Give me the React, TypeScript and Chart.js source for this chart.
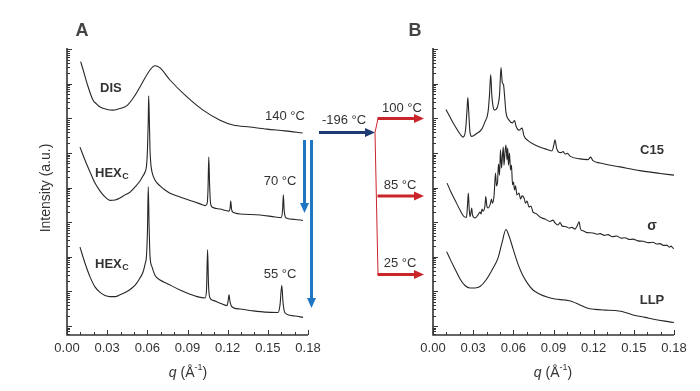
import React, { useEffect, useRef } from 'react';
import { Chart, registerables } from 'chart.js';
Chart.register(...registerables);

// ---------- data (q in 1/Å, intensity given as log10 of arbitrary units) ----------
const xTickValues = [0, 0.03, 0.06, 0.09, 0.12, 0.15, 0.18];

// Panel A
const disQ = [0.0102, 0.0123, 0.0149, 0.0194, 0.022, 0.0247, 0.0299, 0.0344, 0.0381, 0.0448, 0.05, 0.0545, 0.062, 0.0657, 0.0695, 0.0769, 0.0896, 0.1016, 0.1143, 0.124, 0.1367, 0.1494, 0.1628, 0.176];
const disLogI = [8.64, 8.37, 8.02, 7.53, 7.42, 7.33, 7.26, 7.24, 7.27, 7.37, 7.62, 7.91, 8.4, 8.52, 8.46, 8.11, 7.62, 7.24, 6.95, 6.81, 6.75, 6.69, 6.64, 6.58];

const hex70Q = [0.0097, 0.0134, 0.0172, 0.0209, 0.0247, 0.0284, 0.0321, 0.0359, 0.0396, 0.0433, 0.0471, 0.0508, 0.0545, 0.0568, 0.0583, 0.0594, 0.0601, 0.0607, 0.061, 0.0615, 0.062, 0.0627, 0.0635, 0.0657, 0.0695, 0.0732, 0.0769, 0.0844, 0.0919, 0.0994, 0.1031, 0.1046, 0.1053, 0.1059, 0.1065, 0.1072, 0.1083, 0.1143, 0.121, 0.1218, 0.1223, 0.1229, 0.124, 0.133, 0.1442, 0.1554, 0.1599, 0.161, 0.1616, 0.1622, 0.1636, 0.1703, 0.1763];
const hex70LogI = [6.17, 5.8, 5.45, 5.13, 4.9, 4.73, 4.63, 4.64, 4.7, 4.79, 4.87, 5.02, 5.19, 5.34, 5.45, 5.63, 6.09, 6.95, 7.65, 6.95, 6.09, 5.65, 5.45, 5.22, 5.05, 4.93, 4.84, 4.73, 4.63, 4.53, 4.48, 4.53, 4.93, 5.88, 5.08, 4.55, 4.44, 4.38, 4.32, 4.41, 4.61, 4.38, 4.29, 4.23, 4.21, 4.15, 4.13, 4.35, 4.79, 4.35, 4.12, 4.08, 4.05];

const hex55Q = [0.0097, 0.0134, 0.0172, 0.0209, 0.0247, 0.0284, 0.0321, 0.0359, 0.0396, 0.0441, 0.0483, 0.0515, 0.0545, 0.0568, 0.0583, 0.0594, 0.0601, 0.0607, 0.0613, 0.062, 0.0635, 0.0657, 0.0695, 0.0747, 0.0844, 0.0919, 0.0971, 0.1031, 0.1042, 0.105, 0.1057, 0.1068, 0.1091, 0.1143, 0.1195, 0.1203, 0.121, 0.1218, 0.1233, 0.1292, 0.1367, 0.1479, 0.1576, 0.1591, 0.1604, 0.1614, 0.1628, 0.1703, 0.1763];
const hex55LogI = [3.28, 2.82, 2.42, 2.13, 1.97, 1.88, 1.85, 1.85, 1.9, 1.98, 2.09, 2.21, 2.39, 2.56, 2.79, 3.05, 3.77, 5.02, 3.92, 3.02, 2.71, 2.47, 2.33, 2.23, 2.04, 1.92, 1.85, 1.81, 2.04, 3.2, 2.18, 1.81, 1.74, 1.66, 1.59, 1.72, 1.9, 1.69, 1.55, 1.49, 1.45, 1.4, 1.39, 1.61, 2.18, 1.66, 1.38, 1.29, 1.25];

// Panel B
const c15Q = [0.0097, 0.0127, 0.0164, 0.0202, 0.0224, 0.0243, 0.0254, 0.026, 0.0267, 0.0276, 0.0289, 0.0321, 0.0364, 0.0388, 0.0411, 0.0422, 0.0431, 0.0439, 0.0448, 0.0459, 0.0482, 0.0497, 0.0508, 0.0517, 0.0527, 0.0534, 0.0545, 0.0568, 0.0594, 0.0609, 0.062, 0.0642, 0.0665, 0.068, 0.071, 0.0762, 0.0837, 0.0889, 0.0904, 0.0911, 0.0923, 0.0937, 0.0956, 0.0971, 0.0986, 0.1005, 0.1023, 0.1098, 0.1158, 0.1177, 0.1195, 0.1247, 0.1397, 0.1546, 0.1696, 0.18];
const c15LogI = [7.26, 7.04, 6.78, 6.55, 6.46, 6.66, 7.24, 7.6, 7.18, 6.61, 6.48, 6.55, 6.69, 6.9, 7.18, 7.68, 8.27, 7.68, 7.36, 7.24, 7.34, 7.68, 8.47, 8.05, 7.97, 7.68, 7.18, 6.95, 6.87, 6.94, 6.78, 6.66, 6.72, 6.49, 6.36, 6.23, 6.12, 6.06, 6.26, 6.38, 6.14, 6.03, 6.01, 6.04, 5.97, 5.99, 5.91, 5.83, 5.81, 5.88, 5.78, 5.71, 5.6, 5.49, 5.41, 5.36];

const sigmaQ = [0.0105, 0.0134, 0.0164, 0.0202, 0.0232, 0.025, 0.0258, 0.0264, 0.027, 0.0276, 0.0284, 0.0289, 0.0295, 0.0314, 0.0336, 0.0351, 0.0359, 0.0366, 0.0374, 0.0388, 0.0394, 0.0402, 0.0411, 0.0426, 0.0437, 0.0444, 0.0456, 0.0467, 0.0474, 0.0482, 0.0489, 0.0497, 0.0504, 0.0512, 0.0519, 0.0525, 0.053, 0.0538, 0.0545, 0.0553, 0.0558, 0.0564, 0.0571, 0.0579, 0.0586, 0.0594, 0.0601, 0.0609, 0.0616, 0.0627, 0.0642, 0.0654, 0.0665, 0.068, 0.0691, 0.0702, 0.0717, 0.0732, 0.0747, 0.0769, 0.0799, 0.0837, 0.0874, 0.0896, 0.0911, 0.0934, 0.0949, 0.0964, 0.0994, 0.1016, 0.1038, 0.1061, 0.1076, 0.1091, 0.1102, 0.1121, 0.115, 0.1195, 0.1225, 0.1247, 0.128, 0.1307, 0.134, 0.1372, 0.1405, 0.1434, 0.147, 0.1494, 0.153, 0.1569, 0.161, 0.1643, 0.167, 0.1696, 0.172, 0.1748, 0.1765, 0.1778, 0.179, 0.18];
const sigmaLogI = [5.13, 4.87, 4.64, 4.35, 4.16, 4.14, 4.5, 4.84, 4.41, 4.16, 4.29, 4.41, 4.21, 4.12, 4.21, 4.29, 4.24, 4.38, 4.32, 4.47, 4.74, 4.47, 4.41, 4.5, 4.67, 4.55, 4.76, 5.42, 5.05, 5.16, 5.68, 5.36, 6.09, 5.57, 5.94, 6.17, 5.65, 6.03, 6.23, 5.8, 6.14, 5.65, 6.0, 5.51, 5.65, 5.08, 5.16, 4.93, 5.05, 4.79, 4.84, 4.67, 4.76, 4.7, 4.55, 4.61, 4.44, 4.47, 4.29, 4.25, 4.15, 4.09, 4.02, 4.06, 3.98, 3.92, 3.99, 3.89, 3.87, 3.83, 3.85, 3.8, 3.89, 4.01, 3.8, 3.75, 3.7, 3.69, 3.65, 3.67, 3.62, 3.64, 3.58, 3.6, 3.54, 3.55, 3.5, 3.51, 3.46, 3.45, 3.41, 3.42, 3.37, 3.38, 3.33, 3.33, 3.28, 3.31, 3.26, 3.24];

const llpQ = [0.0102, 0.0127, 0.0164, 0.0202, 0.0239, 0.0276, 0.0314, 0.0351, 0.0396, 0.0441, 0.0486, 0.0515, 0.0545, 0.0568, 0.0598, 0.0635, 0.0672, 0.071, 0.0747, 0.0799, 0.0852, 0.0911, 0.0986, 0.1038, 0.1098, 0.115, 0.121, 0.1285, 0.136, 0.1412, 0.1494, 0.1584, 0.1658, 0.1733, 0.18];
const llpLogI = [3.15, 2.94, 2.65, 2.36, 2.17, 2.1, 2.1, 2.14, 2.33, 2.62, 2.97, 3.4, 3.79, 3.6, 3.23, 2.79, 2.45, 2.21, 2.04, 1.92, 1.84, 1.78, 1.75, 1.71, 1.61, 1.52, 1.48, 1.46, 1.45, 1.42, 1.32, 1.25, 1.19, 1.14, 1.1];

// ---------- helpers ----------
const Y_MIN = Math.pow(10, 0.74);
const Y_MAX = Math.pow(10, 9.035);
const FONT = '"Liberation Sans", Arial, sans-serif';
const INK = '#333333';

const toPoints = (q: number[], lg: number[]) => q.map((v, i) => ({ x: v, y: Math.pow(10, lg[i]) }));

function arrow(ctx: CanvasRenderingContext2D, x1: number, y1: number, x2: number, y2: number, color: string, w: number, headL: number, headW: number) {
  const a = Math.atan2(y2 - y1, x2 - x1);
  const bx = x2 - headL * Math.cos(a), by = y2 - headL * Math.sin(a);
  ctx.strokeStyle = color; ctx.fillStyle = color; ctx.lineWidth = w;
  ctx.beginPath(); ctx.moveTo(x1, y1); ctx.lineTo(bx, by); ctx.stroke();
  ctx.beginPath();
  ctx.moveTo(x2, y2);
  ctx.lineTo(bx + (headW / 2) * Math.sin(a), by - (headW / 2) * Math.cos(a));
  ctx.lineTo(bx - (headW / 2) * Math.sin(a), by + (headW / 2) * Math.cos(a));
  ctx.closePath(); ctx.fill();
}

function text(ctx: CanvasRenderingContext2D, s: string, x: number, y: number, font: string, align: CanvasTextAlign = 'center', color = INK) {
  ctx.font = font; ctx.fillStyle = color; ctx.textAlign = align; ctx.textBaseline = 'middle';
  ctx.fillText(s, x, y);
}

function subLabel(ctx: CanvasRenderingContext2D, main: string, sub: string, x: number, y: number) {
  ctx.textAlign = 'left'; ctx.textBaseline = 'middle'; ctx.fillStyle = INK;
  ctx.font = `bold 13px ${FONT}`;
  ctx.fillText(main, x, y);
  const w = ctx.measureText(main).width;
  ctx.font = `bold 9px ${FONT}`;
  ctx.fillText(sub, x + w + 0.5, y + 4);
}

function qTitle(ctx: CanvasRenderingContext2D, cx: number, y: number) {
  const f1 = `italic 14px ${FONT}`, f2 = `14px ${FONT}`, f3 = `9px ${FONT}`;
  const parts: [string, string, number][] = [['q', f1, 0], [' (Å', f2, 0], ['-1', f3, -5], [')', f2, 0]];
  let total = 0;
  for (const [s, f] of parts) { ctx.font = f; total += ctx.measureText(s).width; }
  let x = cx - total / 2;
  ctx.fillStyle = INK; ctx.textAlign = 'left'; ctx.textBaseline = 'middle';
  for (const [s, f, dy] of parts) { ctx.font = f; ctx.fillText(s, x, y + dy); x += ctx.measureText(s).width; }
}

function drawAxes(chart: any) {
  const { ctx, chartArea, scales } = chart;
  const { left, right, top, bottom } = chartArea;
  const x = scales.x, y = scales.y;
  ctx.save();
  ctx.strokeStyle = INK; ctx.lineWidth = 1.6;
  ctx.beginPath(); ctx.moveTo(left, top); ctx.lineTo(left, bottom); ctx.lineTo(right, bottom); ctx.stroke();
  ctx.lineWidth = 1;
  ctx.beginPath();
  for (let e = 0; e <= 9; e++) {
    for (let k = 1; k <= 9; k++) {
      const v = k * Math.pow(10, e);
      if (v < Y_MIN || v > Y_MAX) continue;
      const py = Math.round(y.getPixelForValue(v)) + 0.5;
      const len = k === 1 ? 5 : 3;
      ctx.moveTo(left, py); ctx.lineTo(left + len, py);
    }
  }
  for (let i = 0; i <= 18; i++) {
    const px = Math.round(x.getPixelForValue(i / 100)) + 0.5;
    const len = i % 3 === 0 ? 5 : 3;
    ctx.moveTo(px, bottom); ctx.lineTo(px, bottom - len);
  }
  ctx.stroke();
  ctx.restore();
}

const annotA = {
  id: 'annotA',
  afterDraw(chart: any) {
    const ctx = chart.ctx as CanvasRenderingContext2D;
    drawAxes(chart);
    ctx.save();
    text(ctx, 'A', 82, 31, `bold 18px ${FONT}`, 'center', '#444');
    ctx.save();
    ctx.translate(46, 188); ctx.rotate(-Math.PI / 2);
    text(ctx, 'Intensity (a.u.)', 0, 0, `14px ${FONT}`);
    ctx.restore();
    qTitle(ctx, 188, 373);
    text(ctx, 'DIS', 100, 88, `bold 13px ${FONT}`, 'left');
    subLabel(ctx, 'HEX', 'C', 95, 173);
    subLabel(ctx, 'HEX', 'C', 95, 264);
    text(ctx, '140 °C', 285, 116, `13px ${FONT}`);
    text(ctx, '70 °C', 280, 181, `13px ${FONT}`);
    text(ctx, '55 °C', 280, 274, `13px ${FONT}`);
    text(ctx, '-196 °C', 344, 120, `13px ${FONT}`);
    text(ctx, '100 °C', 402, 108, `13px ${FONT}`);
    text(ctx, '85 °C', 400, 185, `13px ${FONT}`);
    text(ctx, '25 °C', 400, 263, `13px ${FONT}`);
    // cooling / heating arrows
    const blue = '#1f77c4', navy = '#1d3b72', red = '#c9252b';
    arrow(ctx, 304.5, 140, 304.5, 213, blue, 3, 10, 9);
    arrow(ctx, 311.5, 140, 311.5, 308, blue, 3, 10, 9);
    arrow(ctx, 319, 132.5, 375, 132.5, navy, 3, 10, 9);
    ctx.strokeStyle = red; ctx.lineWidth = 1;
    ctx.beginPath();
    ctx.moveTo(375, 132.5); ctx.lineTo(378, 118.5);
    ctx.moveTo(375, 132.5); ctx.lineTo(378, 274.5);
    ctx.stroke();
    arrow(ctx, 377.5, 118.5, 424, 118.5, red, 3, 10, 9);
    arrow(ctx, 377.5, 196, 424, 196, red, 3, 10, 9);
    arrow(ctx, 377.5, 274.5, 424, 274.5, red, 3, 10, 9);
    ctx.restore();
  },
};

const annotB = {
  id: 'annotB',
  afterDraw(chart: any) {
    const ctx = chart.ctx as CanvasRenderingContext2D;
    drawAxes(chart);
    ctx.save();
    text(ctx, 'B', 415, 31, `bold 18px ${FONT}`, 'center', '#444');
    qTitle(ctx, 553, 373);
    text(ctx, 'C15', 652, 150, `bold 13px ${FONT}`);
    text(ctx, 'σ', 652, 226, `bold 14px ${FONT}`);
    text(ctx, 'LLP', 652, 300, `bold 13px ${FONT}`);
    ctx.restore();
  },
};

function makeConfig(datasets: any[], padLeft: number, padRight: number, plugin: any): any {
  return {
    type: 'line',
    data: {
      datasets: datasets.map((d) => ({
        data: d,
        borderColor: '#262626',
        borderWidth: 1.1,
        pointRadius: 0,
        fill: false,
        cubicInterpolationMode: 'monotone',
      })),
    },
    options: {
      animation: false,
      responsive: false,
      events: [],
      layout: { padding: { left: padLeft, right: padRight, top: 48, bottom: 0 } },
      plugins: { legend: { display: false }, tooltip: { enabled: false }, title: { display: false } },
      scales: {
        x: {
          type: 'linear',
          min: 0,
          max: 0.18,
          grid: { display: false, drawTicks: false },
          border: { display: false },
          afterBuildTicks: (axis: any) => { axis.ticks = xTickValues.map((v) => ({ value: v })); },
          afterFit: (axis: any) => { axis.height = 56; },
          ticks: {
            autoSkip: false,
            maxRotation: 0,
            padding: 6,
            color: INK,
            font: { family: FONT, size: 13 },
            callback: (v: any) => Number(v).toFixed(2),
          },
        },
        y: { type: 'logarithmic', min: Y_MIN, max: Y_MAX, display: false },
      },
    },
    plugins: [plugin],
  };
}

export default function App() {
  const aRef = useRef<HTMLCanvasElement>(null);
  const bRef = useRef<HTMLCanvasElement>(null);
  useEffect(() => {
    const ca = new Chart(aRef.current as HTMLCanvasElement, makeConfig([
      toPoints(disQ, disLogI), toPoints(hex70Q, hex70LogI), toPoints(hex55Q, hex55LogI),
    ], 67, 392, annotA));
    const cb = new Chart(bRef.current as HTMLCanvasElement, makeConfig([
      toPoints(c15Q, c15LogI), toPoints(sigmaQ, sigmaLogI), toPoints(llpQ, llpLogI),
    ], 433, 26, annotB));
    return () => { ca.destroy(); cb.destroy(); };
  }, []);
  return (
    <div style={{ position: 'fixed', left: 0, top: 0, width: 700, height: 391, background: '#fff' }}>
      <canvas ref={aRef} width={700} height={391} style={{ position: 'absolute', left: 0, top: 0, width: 700, height: 391 }} />
      <canvas ref={bRef} width={700} height={391} style={{ position: 'absolute', left: 0, top: 0, width: 700, height: 391 }} />
    </div>
  );
}
